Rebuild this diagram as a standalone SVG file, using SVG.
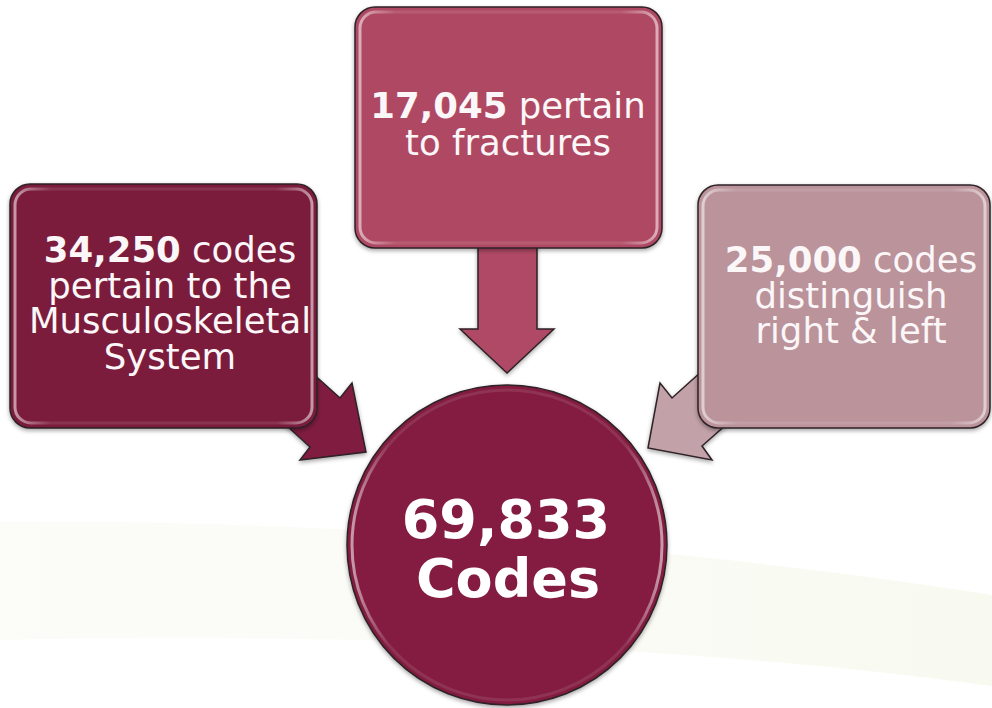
<svg xmlns="http://www.w3.org/2000/svg" width="992" height="708" viewBox="0 0 992 708">
  <defs>
    <filter id="sh" x="-10%" y="-10%" width="120%" height="125%">
      <feDropShadow dx="0" dy="2" stdDeviation="2" flood-color="#000" flood-opacity="0.35"/>
    </filter>
    <linearGradient id="hl" x1="0" y1="0" x2="1" y2="0">
      <stop offset="0" stop-color="#fff" stop-opacity="0.55"/>
      <stop offset="0.12" stop-color="#fff" stop-opacity="0.1"/>
      <stop offset="0.88" stop-color="#fff" stop-opacity="0.1"/>
      <stop offset="1" stop-color="#fff" stop-opacity="0.55"/>
    </linearGradient>
    <linearGradient id="band" x1="0" y1="0" x2="1" y2="0">
      <stop offset="0" stop-color="#f8f9f2" stop-opacity="0.5"/>
      <stop offset="0.5" stop-color="#f8f9f0" stop-opacity="0.6"/>
      <stop offset="1" stop-color="#f6f8ec" stop-opacity="0.8"/>
    </linearGradient>
  </defs>
  <style>
    .box { stroke: #2e2226; stroke-width: 1.5; }
    .inner { fill: none; stroke: url(#hl); stroke-width: 3; }
    .arrow { stroke: #2e2226; stroke-width: 1.5; stroke-linejoin: miter; }
    .t { font-family: "DejaVu Sans", Verdana, sans-serif; font-size: 35.5px; fill: #fbf6f7; text-anchor: middle; }
    .b { font-weight: bold; }
    .big { font-family: "DejaVu Sans", Verdana, sans-serif; font-size: 54px; font-weight: bold; fill: #ffffff; text-anchor: middle; }
  </style>

  <rect width="992" height="708" fill="#ffffff"/>
  <path d="M0,522 C300,518 700,548 992,595 L992,686 C700,645 300,632 0,640 Z" fill="url(#band)"/>

  <g id="connectors">
    <polygon class="arrow" fill="#7F1C40" filter="url(#sh)" points="300,362 340,398 352,383 366,452 300,460 310,447 275,415"/>
    <polygon class="arrow" fill="#C2A1A8" filter="url(#sh)" points="712,362 672,398 660,383 648,448 712,460 702,446 737,415"/>
    <polygon class="arrow" fill="#B04A66" filter="url(#sh)" points="478,230 537,230 537,329 554,329 507,373 460,329 478,329"/>
  </g>

  <g id="node-left">
    <rect class="box" x="10" y="184" width="307" height="244" rx="20" fill="#7B1B3E" filter="url(#sh)"/>
    <rect class="inner" x="15" y="189" width="297" height="234" rx="16"/>
    <text class="t" x="170" y="262"><tspan class="b">34,250</tspan> codes<tspan x="170" dy="36">pertain to the</tspan><tspan x="170" dy="35">Musculoskeletal</tspan><tspan x="170" dy="36">System</tspan></text>
  </g>

  <g id="node-top">
    <rect class="box" x="355" y="7" width="307" height="241" rx="20" fill="#AF4964" filter="url(#sh)"/>
    <rect class="inner" x="360" y="12" width="297" height="231" rx="16"/>
    <text class="t" x="508" y="118"><tspan class="b">17,045</tspan> pertain<tspan x="508" dy="37">to fractures</tspan></text>
  </g>

  <g id="node-right">
    <rect class="box" x="698" y="185" width="292" height="243" rx="20" fill="#BA939B" filter="url(#sh)"/>
    <rect class="inner" x="703" y="190" width="282" height="233" rx="16"/>
    <text class="t" x="851" y="272"><tspan class="b">25,000</tspan> codes<tspan x="851" dy="36">distinguish</tspan><tspan x="851" dy="35">right &amp; left</tspan></text>
  </g>

  <g id="node-center">
    <circle class="box" cx="507" cy="545" r="160" fill="#831C3F" filter="url(#sh)"/>
    <circle class="inner" cx="507" cy="545" r="155"/>
    <text class="big" x="506" y="538">69,833<tspan x="508" dy="59">Codes</tspan></text>
  </g>
</svg>
